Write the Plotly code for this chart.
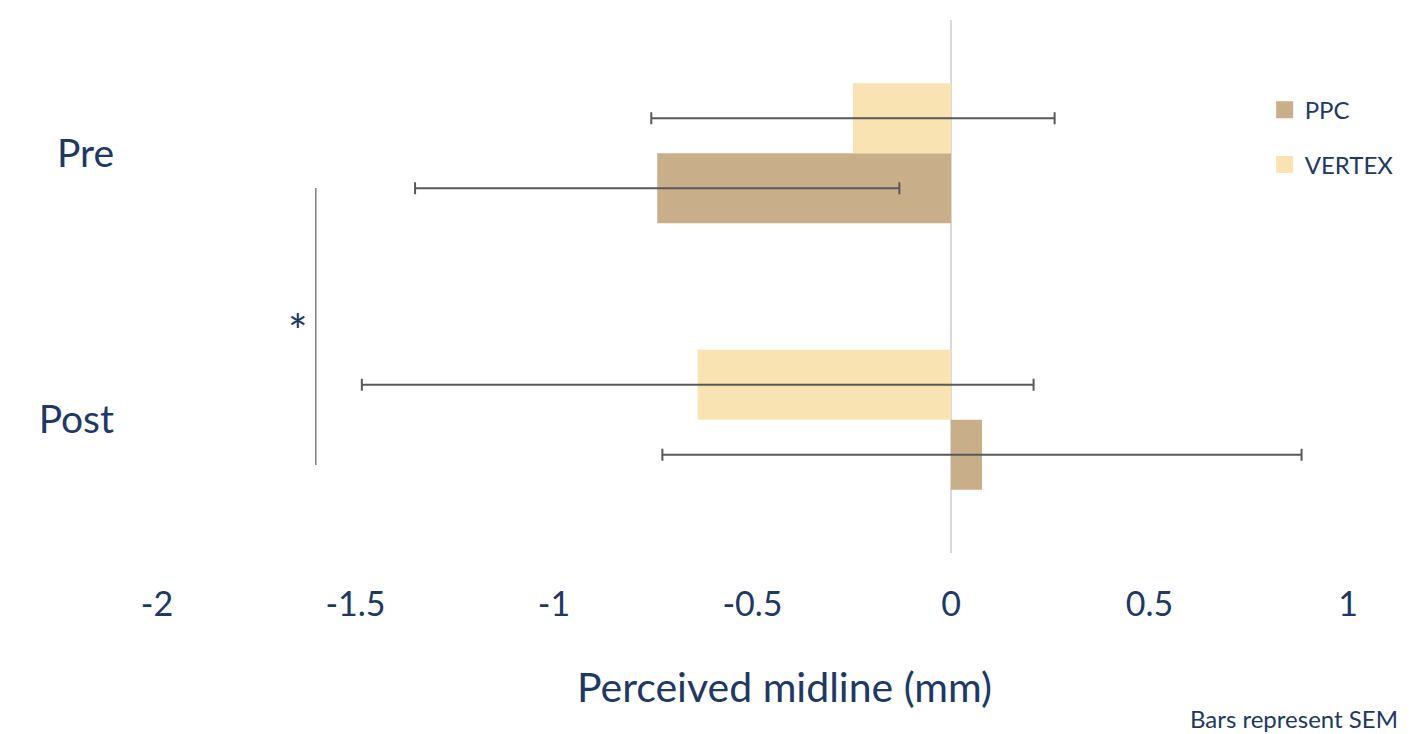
import plotly.graph_objects as go

categories = ["Pre", "Post"]
ppc_values = [-0.74, 0.078]
ppc_sem = [0.61, 0.805]
vertex_values = [-0.247, -0.638]
vertex_sem = [0.508, 0.846]
x_ticks = [-2, -1.5, -1, -0.5, 0, 0.5, 1]
x_tick_labels = ["-2", "-1.5", "-1", "-0.5", "0", "0.5", "1"]

NAVY = "#203864"
FONT = "Lato, Open Sans, sans-serif"
PPC_COLOR = "#C8AF8A"
VERTEX_COLOR = "#FAE3B3"

fig = go.Figure()
fig.add_trace(go.Bar(
    name="PPC", y=categories, x=ppc_values, orientation="h",
    marker=dict(color=PPC_COLOR, line=dict(width=0)),
    error_x=dict(type="data", array=ppc_sem, color="#595959", thickness=2, width=6),
    showlegend=False,
))
fig.add_trace(go.Bar(
    name="VERTEX", y=categories, x=vertex_values, orientation="h",
    marker=dict(color=VERTEX_COLOR, line=dict(width=0)),
    error_x=dict(type="data", array=vertex_sem, color="#595959", thickness=2, width=6),
    showlegend=False,
))
# legend entries (larger swatches), on a hidden overlay axis so they don't affect grouping
fig.add_trace(go.Bar(name="PPC", x=[None], y=[None], orientation="h", xaxis="x2", yaxis="y2",
                     marker=dict(color=PPC_COLOR, line=dict(color=PPC_COLOR, width=5)),
                     legend="legend", showlegend=True))
fig.add_trace(go.Bar(name="VERTEX", x=[None], y=[None], orientation="h", xaxis="x2", yaxis="y2",
                     marker=dict(color=VERTEX_COLOR, line=dict(color=VERTEX_COLOR, width=5)),
                     legend="legend2", showlegend=True))

# significance bracket
fig.add_shape(type="line", xref="x", yref="y", x0=-1.6, x1=-1.6, y0=-0.17, y1=0.87,
              line=dict(color="#7f7f7f", width=1.5))
fig.add_annotation(x=-1.645, y=0.335, xref="x", yref="y", text="*", showarrow=False,
                   font=dict(size=46, color=NAVY, family=FONT))
fig.add_annotation(x=0.527, y=-0.25, xref="paper", yref="paper", xanchor="center", yanchor="middle",
                   text="Perceived midline (mm)", showarrow=False,
                   font=dict(size=41, color=NAVY, family=FONT))
fig.add_annotation(x=0.866, y=-0.31, xref="paper", yref="paper", xanchor="left", yanchor="middle",
                   text="Bars represent SEM", showarrow=False,
                   font=dict(size=24, color=NAVY, family=FONT))

legend_common = dict(font=dict(size=24, color=NAVY, family=FONT), bgcolor="rgba(0,0,0,0)",
                     xanchor="left", yanchor="middle", x=0.93)

fig.update_layout(
    width=1405, height=726,
    margin=dict(l=149, r=65, t=12, b=181),
    paper_bgcolor="white", plot_bgcolor="white",
    barmode="group", bargap=0.475, bargroupgap=0,
    font=dict(family=FONT, color=NAVY),
    showlegend=True,
    legend=dict(y=0.831, **legend_common),
    legend2=dict(y=0.728, **legend_common),
    xaxis=dict(
        range=[-2, 1], tickvals=x_ticks, ticktext=x_tick_labels, automargin=False,
        showgrid=False, zeroline=True, zerolinecolor="#d9d9d9", zerolinewidth=2,
        showline=False, ticks="", tickfont=dict(size=34, color=NAVY, family=FONT),
        ticklabelstandoff=28,
    ),
    yaxis=dict(
        categoryorder="array", categoryarray=["Post", "Pre"], automargin=False,
        showgrid=False, zeroline=False, showline=False, ticks="",
        tickfont=dict(size=39, color=NAVY, family=FONT), ticklabelstandoff=42,
    ),
    xaxis2=dict(overlaying="x", visible=False, range=[0, 1]),
    yaxis2=dict(overlaying="y", visible=False, range=[0, 1]),
)

fig.write_html("out.html")
